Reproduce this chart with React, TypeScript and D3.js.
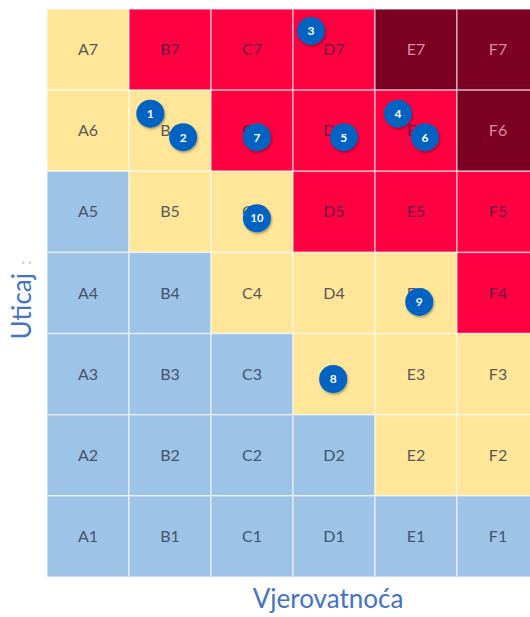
import React from 'react';
import * as d3 from 'd3';

// probability (columns) and impact (rows)
const probCols = ['A', 'B', 'C', 'D', 'E', 'F'];
const impactRows = [7, 6, 5, 4, 3, 2, 1];

// risk level per cell, top row (7) first, columns A..F
const levelRows = [
  ['Y', 'R', 'R', 'R', 'D', 'D'],
  ['Y', 'Y', 'R', 'R', 'R', 'D'],
  ['B', 'Y', 'Y', 'R', 'R', 'R'],
  ['B', 'B', 'Y', 'Y', 'Y', 'R'],
  ['B', 'B', 'B', 'Y', 'Y', 'Y'],
  ['B', 'B', 'B', 'B', 'Y', 'Y'],
  ['B', 'B', 'B', 'B', 'B', 'B'],
];

// risks placed on the matrix (probability, impact in cell units from bottom-left)
const riskIds = [1, 2, 3, 4, 5, 6, 7, 8, 9, 10];
const riskProb = [1.26, 1.66, 3.22, 4.28, 3.62, 4.61, 2.56, 3.49, 4.54, 2.56];
const riskImpact = [5.71, 5.42, 6.73, 5.71, 5.42, 5.42, 5.42, 2.44, 3.39, 4.42];

const fillColor: Record<string, string> = {
  B: '#9dc3e6',
  Y: '#ffe699',
  R: '#ff0040',
  D: '#7b0022',
};
const textColor: Record<string, string> = {
  B: '#44546a',
  Y: '#595959',
  R: '#6b1444',
  D: '#d98aa6',
};

const W = 530;
const H = 617;
const margin = { left: 47, top: 9 };
const cellW = 82;
const gridH = 568;

export default function App() {
  const x = d3.scaleBand<string>().domain(probCols).range([margin.left, margin.left + cellW * probCols.length]);
  const y = d3.scaleBand<number>().domain(impactRows).range([margin.top, margin.top + gridH]);
  const px = d3.scaleLinear().domain([0, probCols.length]).range(x.range() as [number, number]);
  const py = d3.scaleLinear().domain([0, impactRows.length]).range([margin.top + gridH, margin.top]);

  const cells = levelRows.flatMap((row, ri) =>
    row.map((lvl, ci) => ({ col: probCols[ci], row: impactRows[ri], lvl }))
  );
  const risks = riskIds.map((id, i) => ({ id, p: riskProb[i], s: riskImpact[i] }));

  const font = 'Lato, "Noto Sans", sans-serif';

  return (
    <div style={{ position: 'fixed', left: 0, top: 0, width: W, height: H, overflow: 'hidden', background: '#fff' }}>
      <svg width={W} height={H} style={{ display: 'block' }} fontFamily={font}>
        <defs>
          <filter id="shadow" x="-30%" y="-30%" width="160%" height="160%">
            <feDropShadow dx="1" dy="1.5" stdDeviation="1.2" floodColor="#000" floodOpacity="0.35" />
          </filter>
        </defs>

        {cells.map((c) => (
          <g key={c.col + c.row}>
            <rect
              x={x(c.col)}
              y={y(c.row)}
              width={x.bandwidth()}
              height={y.bandwidth()}
              fill={fillColor[c.lvl]}
              stroke="#fff"
              strokeOpacity={0.55}
              strokeWidth={1.5}
            />
            <text
              x={(x(c.col) ?? 0) + x.bandwidth() / 2}
              y={(y(c.row) ?? 0) + y.bandwidth() / 2}
              dy="0.35em"
              textAnchor="middle"
              fontSize={16}
              fill={textColor[c.lvl]}
            >
              {c.col + c.row}
            </text>
          </g>
        ))}

        {risks.map((r) => (
          <g key={r.id} transform={`translate(${px(r.p)},${py(r.s)})`}>
            <circle r={14} fill="#0563c1" filter="url(#shadow)" />
            <text
              textAnchor="middle"
              dy="0.36em"
              fontSize={r.id >= 10 ? 11 : 12}
              fontWeight="bold"
              fill="#fff"
            >
              {r.id}
            </text>
          </g>
        ))}

        <text
          transform={`translate(31,300) rotate(-90)`}
          textAnchor="middle"
          fontSize={26}
          fill="#4472c4"
        >
          Uticaj<tspan fill="#c9c9c9" fontSize={18} dx="8">:</tspan>
        </text>

        <text x={328} y={608} textAnchor="middle" fontSize={26} fill="#4472c4">
          Vjerovatnoća
        </text>
      </svg>
    </div>
  );
}
